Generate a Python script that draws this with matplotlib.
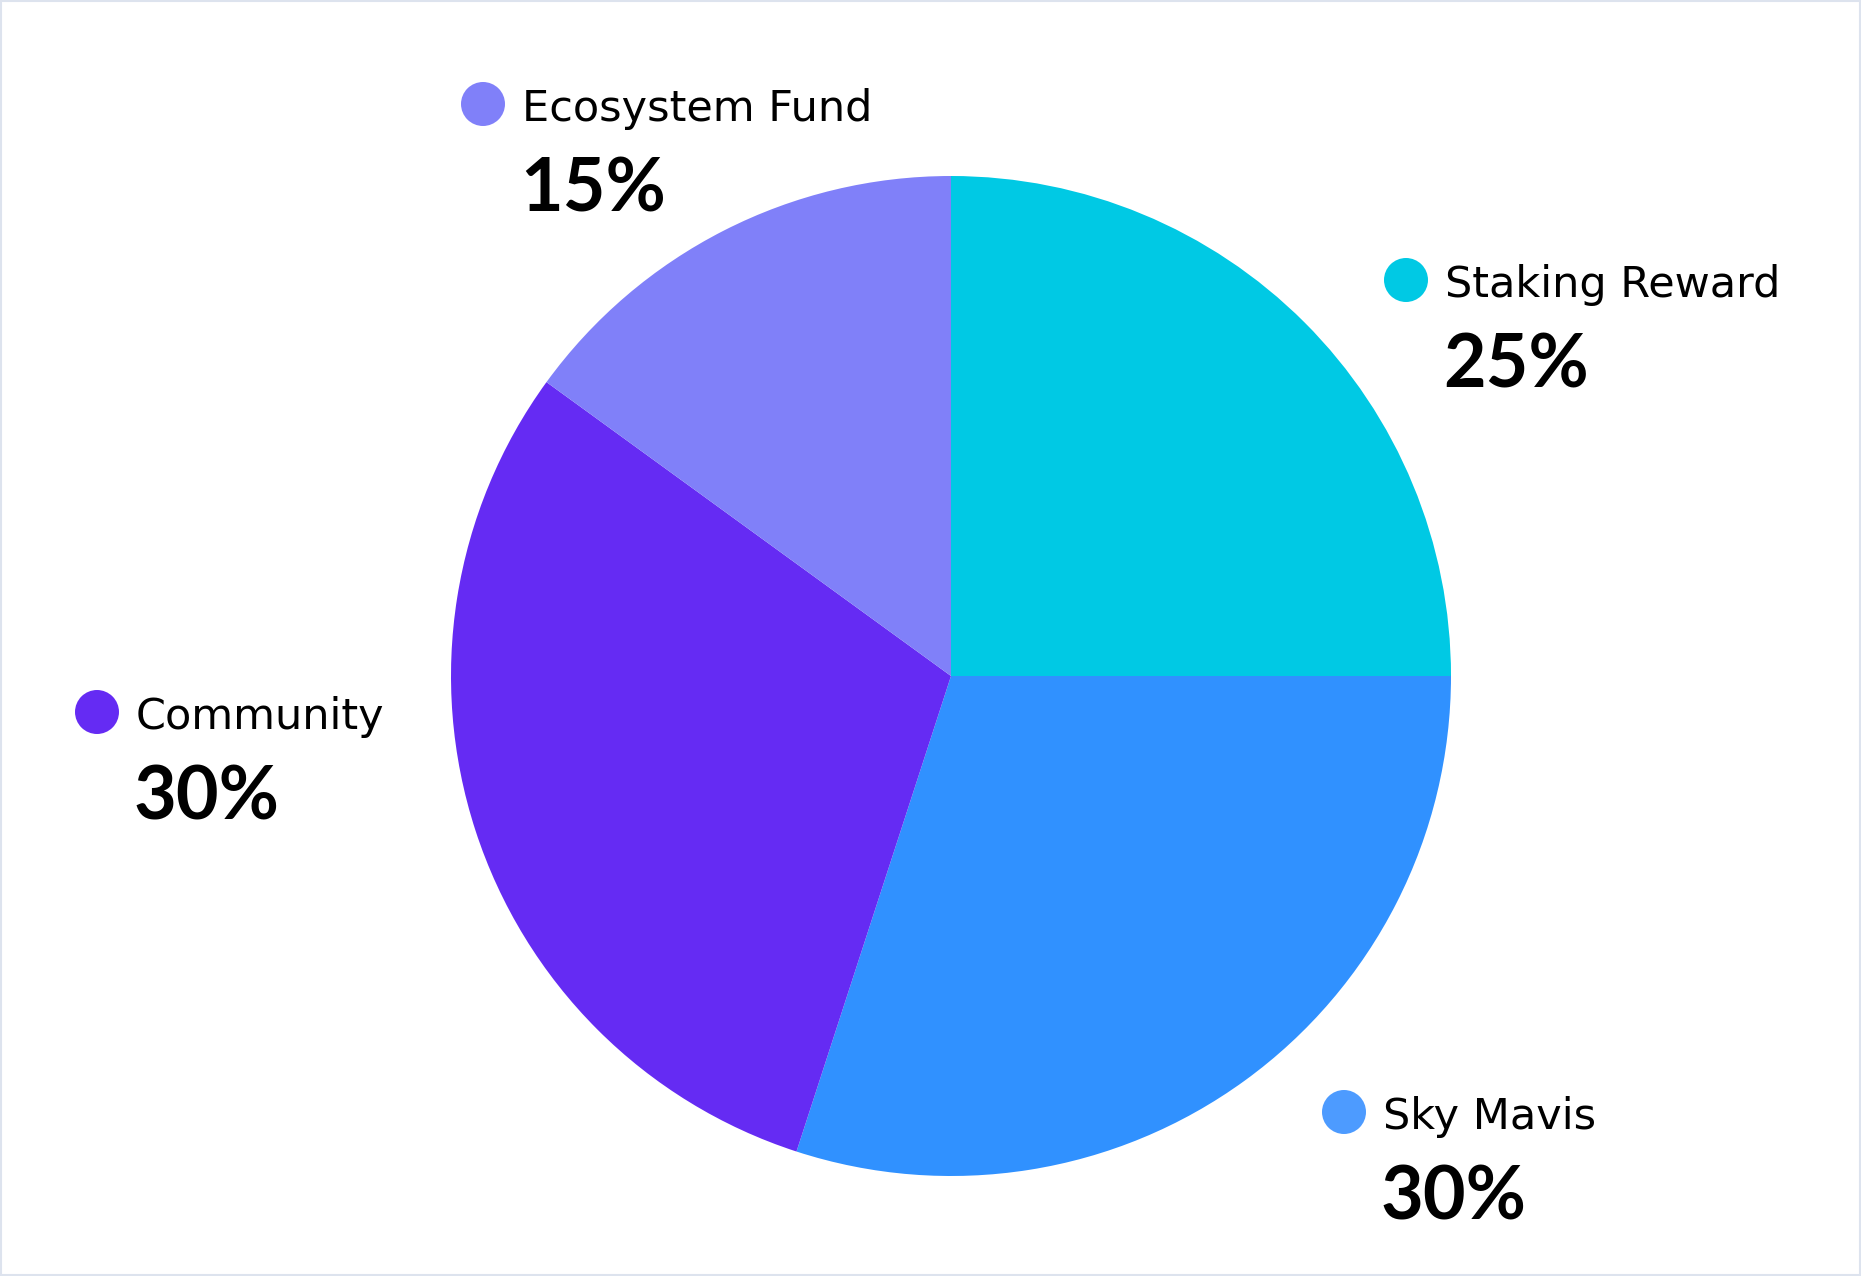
import matplotlib.pyplot as plt
from matplotlib.patches import Circle, Rectangle

# data
labels = ['Staking Reward', 'Sky Mavis', 'Community', 'Ecosystem Fund']
shares = [25, 30, 30, 15]
colors = ['#00C9E4', '#3091FF', '#652BF3', '#8080F9']
dot_colors = ['#00C9E4', '#4D9BFF', '#652BF3', '#8080F9']

# label anchor (dot centre) in pixel coords, y measured from top
label_pos = [(1406, 280), (1344, 1112), (97, 712), (483, 104)]

W, H = 1861, 1276
fig = plt.figure(figsize=(W / 100, H / 100), dpi=100)
ax = fig.add_axes([0, 0, 1, 1])

ax.pie(shares, colors=colors, startangle=90, counterclock=False,
       center=(951, H - 676), radius=500, frame=True,
       wedgeprops=dict(linewidth=0))
ax.set_xlim(0, W)
ax.set_ylim(0, H)
ax.set_aspect('equal')
ax.axis('off')

for lab, val, dc, (px, py) in zip(labels, shares, dot_colors, label_pos):
    y = H - py
    ax.add_patch(Circle((px, y), 22, color=dc, lw=0))
    ax.text(px + 39, y, lab, fontsize=31, family='DejaVu Sans', color='black',
            ha='left', va='center_baseline')
    ax.text(px + 37, y - 79, f'{val}%', fontsize=53, family='Lato',
            fontweight='bold', color='black', ha='left', va='center_baseline')

# thin light border round the card
ax.add_patch(Rectangle((1, 1), W - 2, H - 2, fill=False,
                       edgecolor='#DDE3EE', linewidth=1.5))

fig.savefig('out.png', dpi=100, facecolor='white')
